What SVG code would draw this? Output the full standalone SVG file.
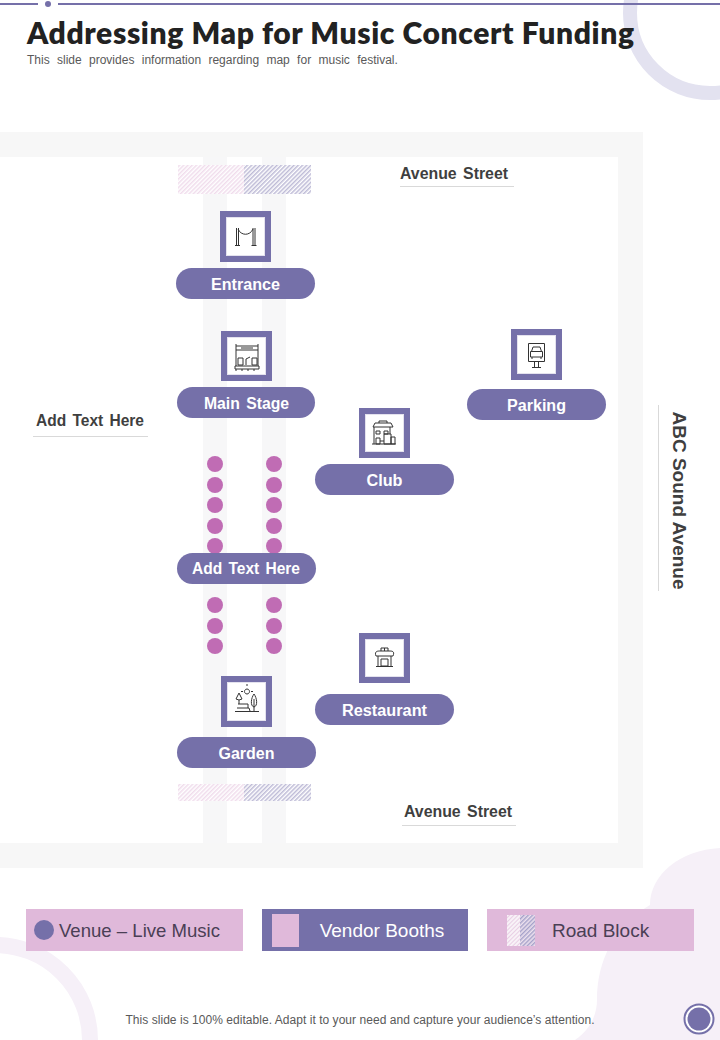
<svg xmlns="http://www.w3.org/2000/svg" width="720" height="1040" viewBox="0 0 720 1040">
<style>
text{font-family:"Liberation Sans",Arial,sans-serif}
.pill{fill:#7570a9}
.pt{fill:#fff;font-size:16px;font-weight:700;text-anchor:middle}
.lab{fill:#3f3f3f;font-size:16px;font-weight:700;text-anchor:middle}
.ws{word-spacing:2px}
.rule{stroke:#d9d9d9;stroke-width:1;fill:none}
.frame{fill:#7570a9}
.in{fill:#fff;stroke:#e4e2ee;stroke-width:1}
.ic{fill:none;stroke:#333;stroke-width:1}
.dot{fill:#c06cb4}
.leg{fill:#e0b9da}
.road{fill:#f7f7f8}
</style>
<defs>
<pattern id="hp" width="3" height="3" patternUnits="userSpaceOnUse" patternTransform="rotate(45)"><rect width="3" height="3" fill="#fff"/><rect width="1.500" height="3" fill="#f0dcec"/></pattern>
<pattern id="hg" width="3" height="3" patternUnits="userSpaceOnUse" patternTransform="rotate(45)"><rect width="3" height="3" fill="#fff"/><rect width="1.500" height="3" fill="#bdbad6"/></pattern>
<pattern id="hw" width="3" height="3" patternUnits="userSpaceOnUse" patternTransform="rotate(45)"><rect width="3" height="3" fill="#e9cfe5"/><rect width="2" height="3" fill="#f8f2f7"/></pattern>
<pattern id="hd" width="3" height="3" patternUnits="userSpaceOnUse" patternTransform="rotate(45)"><rect width="3" height="3" fill="#ece0ee"/><rect width="1.400" height="3" fill="#a5a1c9"/></pattern>
</defs>
<rect width="720" height="1040" fill="#fff"/>
<g id="background">
<circle cx="710" cy="13" r="80" fill="none" stroke="#e3e2f0" stroke-width="14"/>
<circle cx="-5" cy="1040" r="95" fill="none" stroke="#f6f0f8" stroke-width="16"/>
<path d="M720 848C680 850 650 875 650 905C615 925 597 960 597 1000C597 1015 590 1030 575 1040H720Z" fill="#f6f0f8"/>
<rect x="0" y="3" width="38" height="2" fill="#7570a9"/><rect x="58" y="3" width="662" height="2" fill="#7570a9"/><circle cx="48" cy="4" r="3" fill="#7570a9"/>
</g>
<text x="27" y="44" font-size="30" font-weight="800" fill="#222" textLength="607" lengthAdjust="spacing" style="font-family:Lato,'Liberation Sans',sans-serif">Addressing Map for Music Concert Funding</text>
<text x="27" y="64" font-size="12" fill="#595959" word-spacing="4">This slide provides information regarding map for music festival.</text>
<g id="map">
<path fill-rule="evenodd" d="M0 132H643V868H0ZM0 157V843H618V157Z" fill="#f7f7f7"/>
<rect class="road" x="203" y="157" width="24" height="686"/><rect class="road" x="262" y="157" width="24" height="686"/>
<rect x="178" y="165" width="66" height="29" fill="url(#hp)"/><rect x="244" y="165" width="67" height="29" fill="url(#hg)"/>
<rect x="178" y="784" width="66" height="17" fill="url(#hp)"/><rect x="244" y="784" width="67" height="17" fill="url(#hg)"/>
<g id="booth-dots">
<circle class="dot" cx="215" cy="464" r="8"/><circle class="dot" cx="215" cy="485" r="8"/><circle class="dot" cx="215" cy="505" r="8"/><circle class="dot" cx="215" cy="526" r="8"/><circle class="dot" cx="215" cy="546" r="8"/>
<circle class="dot" cx="274" cy="464" r="8"/><circle class="dot" cx="274" cy="485" r="8"/><circle class="dot" cx="274" cy="505" r="8"/><circle class="dot" cx="274" cy="526" r="8"/><circle class="dot" cx="274" cy="546" r="8"/>
<circle class="dot" cx="215" cy="605" r="8"/><circle class="dot" cx="215" cy="626" r="8"/><circle class="dot" cx="215" cy="646" r="8"/>
<circle class="dot" cx="274" cy="605" r="8"/><circle class="dot" cx="274" cy="626" r="8"/><circle class="dot" cx="274" cy="646" r="8"/>
</g>
</g>
<g id="connectors"></g>
<g id="node-entrance">
<rect class="frame" x="220" y="211" width="51" height="51"/><rect class="in" x="226.500" y="217.500" width="38" height="38"/>
<path class="ic" d="M236.500 228V245M238.500 228V245M253 228V245M255 228V245M235 245.500H240M251.500 245.500H256.500M238 229C241 236 250 236 253 229"/>
<rect class="pill" x="176" y="268" width="139" height="31" rx="15.500"/><text class="pt" x="245.500" y="289.500" textLength="69" lengthAdjust="spacingAndGlyphs">Entrance</text>
</g>
<g id="node-main-stage">
<rect class="frame" x="221" y="331" width="51" height="50"/><rect class="in" x="227.500" y="337.500" width="38" height="37"/>
<path class="ic" d="M236 346H258M236 344V366M258 344V366M236 350H258M241 348H253M235 366H259V369H235ZM236 369V371M242 369V371M248 369V371M254 369V371M238 358H243V365H238ZM252 358H257V365H252ZM246 365V359L250 357"/>
<rect class="pill" x="177" y="387" width="138" height="31" rx="15.500"/><text class="pt ws" x="246.500" y="408.500" textLength="85" lengthAdjust="spacingAndGlyphs">Main Stage</text>
</g>
<g id="node-parking">
<rect class="frame" x="511" y="329" width="51" height="51"/><rect class="in" x="517.500" y="335.500" width="38" height="38"/>
<path class="ic" d="M528.500 343.500H544.500V361.500H528.500ZM534.500 361.500V367M538.500 361.500V367M532 367.500H541M531.500 351.500L533 347H540L541.500 351.500M530.500 351.500H542.500V357H530.500ZM532 357V359M541 357V359"/>
<rect class="pill" x="467" y="389" width="139" height="31" rx="15.500"/><text class="pt" x="536.500" y="410.500" textLength="59" lengthAdjust="spacingAndGlyphs">Parking</text>
</g>
<g id="node-club">
<rect class="frame" x="359" y="408" width="51" height="50"/><rect class="in" x="365.500" y="414.500" width="38" height="37"/>
<path class="ic" d="M373 427H393L391 423H375ZM379 423V421H387V423M374 427V444M390 427V434M372 444H396M376 431H380V434H376ZM384 431H388V434H384ZM376 438H380V444H376ZM384 434H391V444H384ZM391 437H395V444H391ZM380 441H384"/>
<rect class="pill" x="315" y="464" width="139" height="31" rx="15.500"/><text class="pt" x="384.500" y="485.500" textLength="36" lengthAdjust="spacingAndGlyphs">Club</text>
</g>
<g id="node-stage-text">
<rect class="pill" x="177" y="553" width="139" height="31" rx="15.500"/><text class="pt ws" x="246" y="574" textLength="108" lengthAdjust="spacingAndGlyphs">Add Text Here</text>
</g>
<g id="node-restaurant">
<rect class="frame" x="359" y="633" width="51" height="50"/><rect class="in" x="365.500" y="639.500" width="38" height="37"/>
<path class="ic" d="M376 656C374 651 378 651 380 651H389C392 651 395 651 393 656ZM378 656V666M391 656V666M376 666.500H393M381 659H388V666H381ZM381 651V648H388V651M384.500 648V651"/>
<rect class="pill" x="315" y="694" width="139" height="31" rx="15.500"/><text class="pt" x="384.500" y="715.500" textLength="85" lengthAdjust="spacingAndGlyphs">Restaurant</text>
</g>
<g id="node-garden">
<rect class="frame" x="221" y="676" width="51" height="51"/><rect class="in" x="227.500" y="682.500" width="38" height="38"/>
<path class="ic" d="M235 711.500H259M237 708H249L250 711M238 704H248V708M239 704V700L236 699L239 693L242 699L239 700M254 711V699M254 694C251 698 250 706 254 707C258 706 257 698 254 694M247 689A2.500 2.500 0 1 0 247.010 689M247 686V684M251 691.500H253M243 691.500H241"/>
<rect class="pill" x="177" y="737" width="139" height="31" rx="15.500"/><text class="pt" x="246.500" y="758.500" textLength="56" lengthAdjust="spacingAndGlyphs">Garden</text>
</g>
<g id="labels">
<text class="lab ws" x="454" y="178.500" textLength="108" lengthAdjust="spacingAndGlyphs">Avenue Street</text><path class="rule" d="M400 186.500H514"/>
<text class="lab ws" x="458" y="816.500" textLength="108" lengthAdjust="spacingAndGlyphs">Avenue Street</text><path class="rule" d="M402 825.500H516"/>
<text class="lab ws" x="90" y="425.500" textLength="108" lengthAdjust="spacingAndGlyphs">Add Text Here</text><path class="rule" d="M33 436.500H148"/>
<text class="lab" transform="translate(673 500.500) rotate(90)" style="font-size:19px">ABC Sound Avenue</text><path class="rule" d="M658.500 405V591"/>
</g>
<g id="legend">
<g id="legend-venue"><rect class="leg" x="26" y="909" width="217" height="42"/><circle cx="44" cy="930" r="10" fill="#7570a9"/><text x="59" y="937" font-size="19" fill="#4a3f55" textLength="161" lengthAdjust="spacingAndGlyphs">Venue – Live Music</text></g>
<g id="legend-vendor"><rect x="262" y="909" width="206" height="42" fill="#7570a9"/><rect class="leg" x="272" y="914" width="27" height="33"/><text x="382" y="937" font-size="19" fill="#fff" text-anchor="middle">Vendor Booths</text></g>
<g id="legend-road"><rect class="leg" x="487" y="909" width="207" height="42"/><rect x="507" y="915" width="13" height="31" fill="url(#hw)"/><rect x="520" y="915" width="15" height="31" fill="url(#hd)"/><text x="552" y="937" font-size="19" fill="#4a3f55">Road Block</text></g>
</g>
<text x="360" y="1024" font-size="12" fill="#595959" text-anchor="middle" textLength="469" lengthAdjust="spacing">This slide is 100% editable. Adapt it to your need and capture your audience’s attention.</text>
<g id="page-mark"><circle cx="699" cy="1019" r="14.500" fill="#fff" stroke="#7570a9" stroke-width="2"/><circle cx="699" cy="1019" r="11.500" fill="#7570a9"/></g>
</svg>
